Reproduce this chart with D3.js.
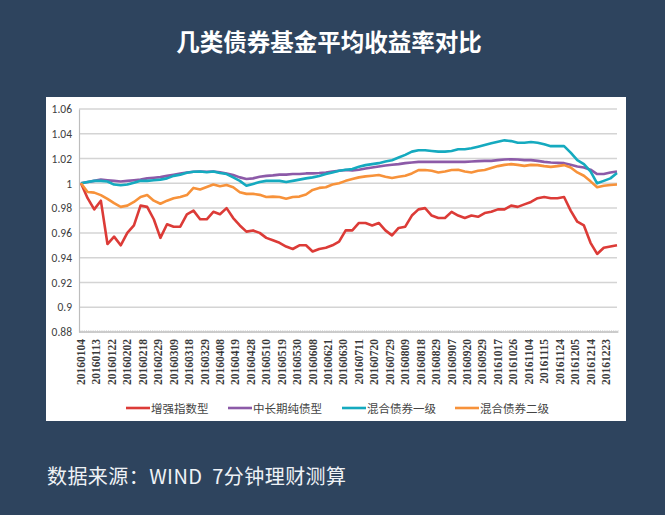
<!DOCTYPE html>
<html><head><meta charset="utf-8">
<script src="https://cdn.jsdelivr.net/npm/d3@7"></script>
<style>body{margin:0;background:#2e445e;}svg{display:block;}</style>
</head><body><svg id="c" width="665" height="515"></svg>
<script>
const title = "几类债券基金平均收益率对比";
const source = "数据来源：WIND  7分钟理财测算";
const seriesNames = ["增强指数型","中长期纯债型","混合债券一级","混合债券二级"];
const seriesColors = ["#dc3b37","#8c5aa8","#15aabf","#f7923a"];
const tickLabels = ["20160104","20160113","20160122","20160202","20160218","20160229","20160309","20160318","20160329","20160408","20160419","20160428","20160510","20160519","20160530","20160608","20160621","20160630","20160711","20160720","20160729","20160809","20160818","20160829","20160907","20160920","20160929","20161017","20161026","20161104","20161115","20161124","20161205","20161214","20161223"];
const yTickValues = [1.06,1.04,1.02,1.00,0.98,0.96,0.94,0.92,0.90,0.88];
const yTickLabels = ["1.06","1.04","1.02","1","0.98","0.96","0.94","0.92","0.9","0.88"];
const tradingDays = 244;      // trading days in 2016 on the category axis
const labelEvery = 7;         // a label every 7 trading days
const sampleEvery = 3;        // values read every 3 trading days

const enhancedIndex = [1.000,0.988,0.979,0.986,0.951,0.957,0.950,0.960,0.966,0.982,0.981,0.971,0.956,0.967,0.965,0.965,0.975,0.978,0.971,0.971,0.977,0.975,0.980,0.972,0.966,0.961,0.962,0.960,0.956,0.954,0.952,0.949,0.947,0.950,0.950,0.945,0.947,0.948,0.950,0.953,0.962,0.962,0.968,0.968,0.966,0.968,0.962,0.958,0.964,0.965,0.974,0.979,0.980,0.974,0.972,0.972,0.977,0.974,0.972,0.974,0.973,0.976,0.977,0.979,0.979,0.982,0.981,0.983,0.985,0.988,0.989,0.988,0.988,0.989,0.978,0.969,0.966,0.952,0.943,0.948,0.949,0.950];
const pureBond = [1.000,1.001,1.002,1.003,1.0025,1.002,1.0015,1.002,1.0025,1.003,1.004,1.0045,1.005,1.006,1.007,1.008,1.0088,1.0093,1.0096,1.0093,1.0096,1.009,1.008,1.0067,1.0048,1.0035,1.004,1.0053,1.006,1.0064,1.007,1.007,1.0075,1.0075,1.008,1.008,1.0083,1.0088,1.0096,1.0101,1.0107,1.0104,1.011,1.012,1.0128,1.0136,1.0144,1.015,1.0155,1.0163,1.0168,1.0173,1.0173,1.0173,1.0173,1.0173,1.0173,1.0173,1.0173,1.0176,1.0179,1.0181,1.0181,1.0187,1.0192,1.0195,1.0192,1.0187,1.0187,1.0181,1.0173,1.0168,1.0165,1.0163,1.015,1.0136,1.0128,1.011,1.0075,1.0075,1.0088,1.0096];
const mixedBond1 = [1.000,1.001,1.002,1.002,1.0015,0.999,0.9985,0.999,1.0005,1.002,1.002,1.0025,1.003,1.004,1.006,1.007,1.0085,1.0093,1.0096,1.009,1.0096,1.0083,1.0075,1.0048,1.002,0.998,0.9995,1.001,1.002,1.002,1.002,1.001,1.002,1.003,1.004,1.0048,1.006,1.0075,1.0088,1.0101,1.011,1.0115,1.0133,1.0147,1.0155,1.0163,1.0176,1.0187,1.0208,1.023,1.0256,1.0267,1.0267,1.0261,1.0256,1.0256,1.0261,1.0275,1.0275,1.0283,1.0296,1.031,1.0323,1.0336,1.0347,1.0341,1.0328,1.0328,1.0333,1.0328,1.0315,1.030,1.030,1.030,1.0248,1.0187,1.0155,1.0096,1.000,1.002,1.004,1.0083];
const mixedBond2 = [1.000,0.993,0.9925,0.9905,0.9875,0.984,0.981,0.982,0.985,0.989,0.9905,0.986,0.9835,0.986,0.988,0.989,0.9905,0.9963,0.995,0.997,0.999,0.9976,0.9987,0.9968,0.9928,0.9915,0.9915,0.9907,0.989,0.9893,0.989,0.9875,0.989,0.9893,0.991,0.9947,0.9963,0.9968,0.999,1.000,1.002,1.0035,1.0048,1.0056,1.0061,1.0067,1.0053,1.0043,1.0053,1.0061,1.008,1.0107,1.0107,1.0101,1.0088,1.0096,1.0107,1.011,1.0096,1.0088,1.0101,1.0107,1.0123,1.0139,1.0149,1.0155,1.0149,1.0141,1.0149,1.0147,1.0139,1.0133,1.0139,1.0147,1.0128,1.0088,1.0061,1.0016,0.9968,0.998,0.9987,0.999];
const allSeries = [enhancedIndex, pureBond, mixedBond1, mixedBond2];

const svg = d3.select("#c");
svg.append("rect").attr("width",665).attr("height",515).attr("fill","#2e445e");
svg.append("text").attr("x",329).attr("y",51).attr("text-anchor","middle")
  .attr("fill","#ffffff").attr("font-family","Noto Sans CJK SC").attr("font-weight","bold")
  .attr("font-size",23.5).text(title);
svg.append("text").attr("x",47).attr("y",484)
  .attr("fill","#eef2f6").attr("font-family","Noto Sans CJK SC")
  .attr("font-size",20).style("white-space","pre")
  .attr("textLength",299).attr("lengthAdjust","spacing").text(source);

svg.append("rect").attr("x",46).attr("y",97).attr("width",580).attr("height",324).attr("fill","#ffffff");

const x = d3.scaleLinear().domain([0, tradingDays-1]).range([81, 617]);
const y = d3.scaleLinear().domain([0.88, 1.06]).range([332, 109]);

// gridlines
svg.append("g").selectAll("line").data(yTickValues.slice(0,-1)).join("line")
  .attr("x1",79).attr("x2",617).attr("y1",d=>y(d)).attr("y2",d=>y(d))
  .attr("stroke","#d4d4d4").attr("stroke-width",1.5);

// y axis
const yAxis = d3.axisLeft(y).tickValues(yTickValues).tickSize(0).tickPadding(7)
  .tickFormat((d,i)=>yTickLabels[i]);
const gy = svg.append("g").attr("transform","translate(79,0)").call(yAxis);
gy.select(".domain").attr("stroke","#bdbdbd").attr("stroke-width",1.2);
gy.selectAll("text").attr("font-family","Carlito, Liberation Sans, sans-serif").attr("font-size",11.5).attr("fill","#404040");

// x axis (category ticks every trading day, labels every 7)
const tickIdx = d3.range(0, tradingDays+1);
const gx = svg.append("g");
gx.append("line").attr("x1",79).attr("x2",618).attr("y1",y(0.88)).attr("y2",y(0.88))
  .attr("stroke","#bdbdbd").attr("stroke-width",1.5);
gx.selectAll("line.t").data(tickIdx).join("line").attr("class","t")
  .attr("x1",d=>x(d-0.5)).attr("x2",d=>x(d-0.5)).attr("y1",y(0.88)-2).attr("y2",y(0.88)+1)
  .attr("stroke","#c8c8c8").attr("stroke-width",0.6);
gx.selectAll("text").data(tickLabels).join("text")
  .attr("transform",(d,i)=>`translate(${x(i*labelEvery)+4},339) rotate(-90)`)
  .attr("text-anchor","end").attr("font-family","Liberation Serif").attr("font-weight","bold")
  .attr("font-size",11.5).attr("fill","#3a3a3a").text(d=>d);

// lines
const line = d3.line().x((d,i)=>x(i*sampleEvery)).y(d=>y(d));
svg.append("g").selectAll("path").data(allSeries).join("path")
  .attr("d",line).attr("fill","none").attr("stroke",(d,i)=>seriesColors[i])
  .attr("stroke-width",2.6).attr("stroke-linejoin","round");

// legend
const legendX = [126, 228, 342, 455];
const lg = svg.append("g").selectAll("g").data(seriesNames).join("g")
  .attr("transform",(d,i)=>`translate(${legendX[i]},408)`);
lg.append("line").attr("x1",0).attr("x2",24).attr("stroke",(d,i)=>seriesColors[i]).attr("stroke-width",2.6);
lg.append("text").attr("x",25).attr("y",4.5).attr("font-family","Noto Sans CJK SC")
  .attr("font-size",11.5).attr("fill","#444").text(d=>d);
</script></body></html>
